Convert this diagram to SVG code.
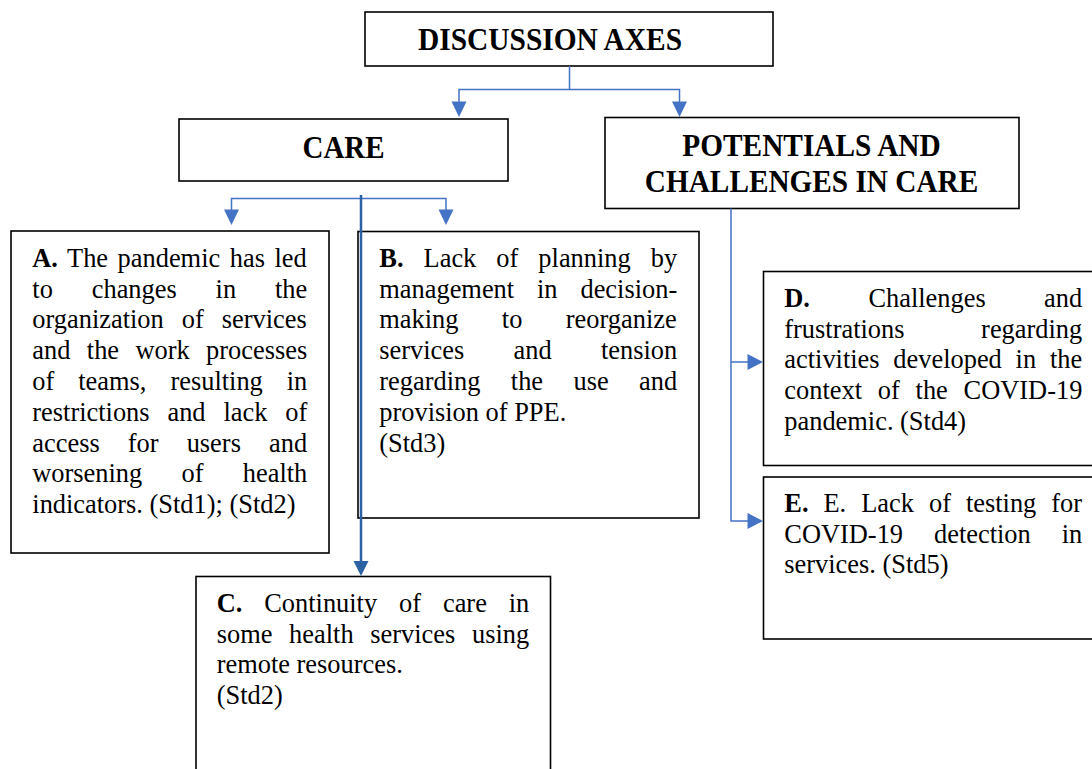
<svg xmlns="http://www.w3.org/2000/svg" width="1092" height="769" viewBox="0 0 1092 769">
<style>
.box{fill:#fff;stroke:#000;stroke-width:1.6}
.hd{font-family:"Liberation Serif","Times New Roman",serif;font-weight:bold;font-size:31px;text-anchor:middle;fill:#000}
.bd{font-family:"Liberation Serif","Times New Roman",serif;font-size:26.4px;fill:#000}
.b{font-weight:bold}
.c1{fill:none;stroke:#4472C4;stroke-width:1.5}
.a1{fill:#4472C4}
.c2{fill:none;stroke:#2C62A4;stroke-width:2.5}
.a2{fill:#2C62A4}
</style>
<rect width="1092" height="769" fill="#fff"/>

<g id="node-discussion-axes">
<rect class="box" x="365" y="12" width="408" height="54"/>
<text class="hd" x="550" y="50" textLength="264" lengthAdjust="spacingAndGlyphs">DISCUSSION AXES</text>
</g>

<g id="node-care">
<rect class="box" x="179" y="119" width="329" height="62"/>
<text class="hd" x="343.5" y="158" textLength="82" lengthAdjust="spacingAndGlyphs">CARE</text>
</g>

<g id="node-potentials">
<rect class="box" x="605" y="117.5" width="414" height="91"/>
<text class="hd" x="811.5" y="156" textLength="258.4" lengthAdjust="spacingAndGlyphs">POTENTIALS AND</text>
<text class="hd" x="811.5" y="192" textLength="333.3" lengthAdjust="spacingAndGlyphs">CHALLENGES IN CARE</text>
</g>

<g id="node-a">
<rect class="box" x="11" y="231" width="318" height="322"/>
<text class="bd" x="32.3" y="266.7" style="word-spacing:2.95px"><tspan class="b">A.</tspan> The pandemic has led</text>
<text class="bd" x="32.3" y="297.5" style="word-spacing:32.3px">to changes in the</text>
<text class="bd" x="32.3" y="328.3" style="word-spacing:11.4px">organization of services</text>
<text class="bd" x="32.3" y="359.1" style="word-spacing:9.8px">and the work processes</text>
<text class="bd" x="32.3" y="389.9" style="word-spacing:17.4px">of teams, resulting in</text>
<text class="bd" x="32.3" y="420.7" style="word-spacing:11.3px">restrictions and lack of</text>
<text class="bd" x="32.3" y="451.5" style="word-spacing:21.5px">access for users and</text>
<text class="bd" x="32.3" y="482.3" style="word-spacing:32.7px">worsening of health</text>
<text class="bd" x="32.3" y="513.1">indicators. (Std1); (Std2)</text>
</g>

<g id="node-b">
<rect class="box" x="358" y="231.5" width="341" height="286.5"/>
<text class="bd" x="379.3" y="266.7" style="word-spacing:13.45px"><tspan class="b">B.</tspan> Lack of planning by</text>
<text class="bd" x="379.3" y="297.5" style="word-spacing:16.3px">management in decision-</text>
<text class="bd" x="379.3" y="328.3" style="word-spacing:36.8px">making to reorganize</text>
<text class="bd" x="379.3" y="359.1" style="word-spacing:42.7px">services and tension</text>
<text class="bd" x="379.3" y="389.9" style="word-spacing:23.8px">regarding the use and</text>
<text class="bd" x="379.3" y="420.7">provision of PPE.</text>
<text class="bd" x="379.3" y="451.5">(Std3)</text>
</g>

<g id="node-c">
<rect class="box" x="196" y="576.5" width="354.5" height="230"/>
<text class="bd" x="216.7" y="611.7" style="word-spacing:15.3px"><tspan class="b">C.</tspan> Continuity of care in</text>
<text class="bd" x="216.7" y="642.5" style="word-spacing:10.1px">some health services using</text>
<text class="bd" x="216.7" y="673.3">remote resources.</text>
<text class="bd" x="216.7" y="704.1">(Std2)</text>
</g>

<g id="node-d">
<rect class="box" x="763.5" y="271.5" width="340" height="194"/>
<text class="bd" x="784.3" y="306.7" style="word-spacing:51.85px"><tspan class="b">D.</tspan> Challenges and</text>
<text class="bd" x="784.3" y="337.5" style="word-spacing:70px">frustrations regarding</text>
<text class="bd" x="784.3" y="368.3" style="word-spacing:7.2px">activities developed in the</text>
<text class="bd" x="784.3" y="399.1" style="word-spacing:9.2px">context of the COVID-19</text>
<text class="bd" x="784.3" y="429.9">pandemic. (Std4)</text>
</g>

<g id="node-e">
<rect class="box" x="763.5" y="477" width="340" height="162"/>
<text class="bd" x="784.3" y="511.7" style="word-spacing:8.4px"><tspan class="b">E.</tspan> E. Lack of testing for</text>
<text class="bd" x="784.3" y="542.5" style="word-spacing:24.35px">COVID-19 detection in</text>
<text class="bd" x="784.3" y="573.3">services. (Std5)</text>
</g>

<g id="connectors">
<path class="c1" d="M569.5 66 V89.5 M459 102 V89.5 H679.5 V102"/>
<polygon class="a1" points="451.5,101.5 466.5,101.5 459,117"/>
<polygon class="a1" points="672,101.5 687,101.5 679.5,117"/>
<path class="c1" d="M231.5 210 V198.5 H446 V210"/>
<polygon class="a1" points="224,209.5 239,209.5 231.5,225"/>
<polygon class="a1" points="438.5,209.5 453.5,209.5 446,225"/>
<path class="c1" d="M731 208.5 V521 H748 M731 362 H748"/>
<polygon class="a1" points="747.5,354 747.5,370 763,362"/>
<polygon class="a1" points="747.5,513 747.5,529 763,521"/>
<path class="c2" d="M361 195 V562"/>
<polygon class="a2" points="353.5,561 368.5,561 361,576"/>
</g>
</svg>
